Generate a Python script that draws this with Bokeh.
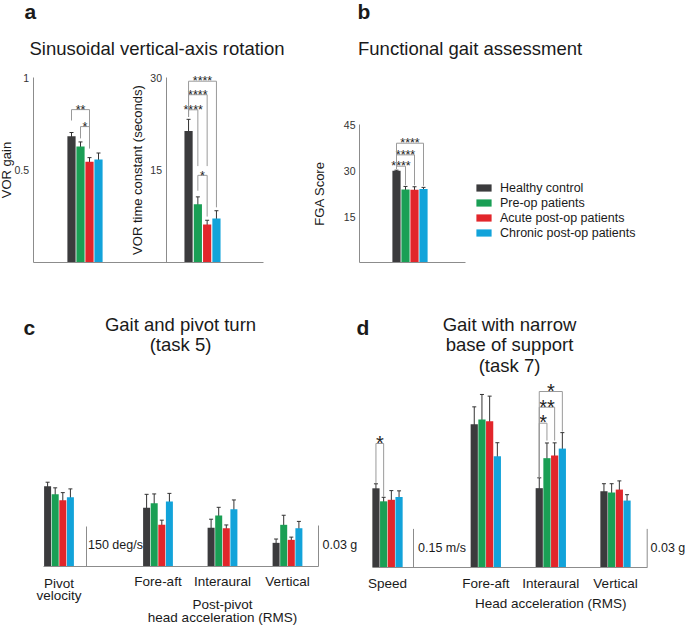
from bokeh.plotting import figure
from bokeh.models import (Range1d, LinearAxis, FixedTicker, ColumnDataSource, Whisker,
                          TeeHead, Legend, LegendItem, NumeralTickFormatter)
from bokeh.core.properties import value
from bokeh.embed import file_html
from bokeh.resources import INLINE

FONT = "Liberation Sans"

# ---------------- data ----------------
series = ["Healthy control", "Pre-op patients", "Acute post-op patients", "Chronic post-op patients"]
colors = ["#3b3b3d", "#1a9f55", "#e2262b", "#12a3da"]

vor_gain = [0.682, 0.626, 0.543, 0.556]
vor_gain_err = [0.020, 0.025, 0.023, 0.035]
vor_tc = [21.3, 9.4, 6.1, 7.1]
vor_tc_err = [1.9, 1.2, 0.7, 1.25]
fga = [29.9, 23.8, 23.7, 24.0]
fga_err = [0.2, 1.0, 1.0, 0.5]

c_pivot_vel = [301, 271, 248, 260]
c_pivot_vel_err = [15, 24, 29, 31]
c_fore_aft = [0.0430, 0.0463, 0.0305, 0.0476]
c_fore_aft_err = [0.0098, 0.0068, 0.0034, 0.0059]
c_interaural = [0.0283, 0.0373, 0.0280, 0.0419]
c_interaural_err = [0.0063, 0.0060, 0.0024, 0.0068]
c_vertical = [0.0173, 0.0305, 0.0195, 0.0280]
c_vertical_err = [0.0028, 0.0070, 0.0020, 0.0050]

d_speed = [0.309, 0.258, 0.264, 0.275]
d_speed_err = [0.0176, 0.0157, 0.036, 0.024]
d_fore_aft = [0.1120, 0.1156, 0.1143, 0.0869]
d_fore_aft_err = [0.0136, 0.0197, 0.0197, 0.0106]
d_interaural = [0.0619, 0.0854, 0.0875, 0.0929]
d_interaural_err = [0.0081, 0.0119, 0.0099, 0.0125]
d_vertical = [0.0595, 0.0585, 0.0608, 0.0522]
d_vertical_err = [0.0059, 0.0069, 0.0068, 0.0046]

gain_ticks = [0.5, 1]
tc_ticks = [15, 30]
fga_ticks = [15, 30, 45]
scale_c = {"vel": 150, "acc": 0.03}
scale_d = {"speed": 0.15, "acc": 0.03}

# significance brackets: (bar i, bar j, top, left end, right end, label) in data units
br_gain = [(0, 2, 0.826, 0.767, 0.705, "**"), (1, 2, 0.734, 0.670, 0.615, "*")]
br_tc = [(0, 1, 24.75, 23.6, 15.6, "****"), (0, 2, 27.2, 23.6, 15.6, "****"),
         (0, 3, 29.4, 23.6, 8.9, "****"), (1, 2, 14.1, 11.6, 7.4, "*")]
br_fga = [(0, 1, 31.4, 30.5, 25.2, "****"), (0, 2, 35.1, 30.5, 25.2, "****"),
          (0, 3, 38.9, 30.5, 25.0, "****")]
br_speed = [(0, 1, 0.4845, 0.330, 0.276, "*")]
br_inter = [(0, 1, 0.1128, 0.0705, 0.0992, "*"), (0, 2, 0.1253, 0.0705, 0.0992, "**"),
            (0, 3, 0.1376, 0.0705, 0.1062, "*")]

# ---------------- canvas ----------------
W, H = 685, 626  # layout coordinate space (1:1 with pixels)
p = figure(width=W, height=H, x_range=Range1d(0, W), y_range=Range1d(0, H),
           x_axis_type=None, y_axis_type=None, toolbar_location=None,
           output_backend="svg", min_border=0, outline_line_color=None)

# extra ranges: (zero-line layout y, px per unit)
rdefs = {"gain": (261.6, 184.6), "tc": (261.6, 184.6 / 30), "fga": (262.0, 138.0 / 45),
         "c_vel": (566.0, 40.0 / 150), "c_acc": (566.0, 41.0 / 0.03),
         "d_speed": (566.7, 38.3 / 0.15), "d_acc": (566.7, 38.3 / 0.03)}
extra = {}
for name, (y0, ppu) in rdefs.items():
    s = -(H - y0) / ppu
    extra[name] = Range1d(s, s + H / ppu)
p.extra_y_ranges = extra

AX = "#8c8c8c"
BR = "#9a9a9a"
TITLE = 18.5
CAT = 13.5
K = 0.3  # baseline correction (fraction of font size)


def txt(x, y, s, size, bold=False, align="left", color="#1a1a1a"):
    p.text(x=[x], y=[H - (y - K * size)], text=[s], text_font=value(FONT),
           text_font_size=f"{size}px",
           text_font_style="bold" if bold else "normal", text_align=align,
           text_baseline="alphabetic", text_color=color)


def bars(rname, center, pitch, width, means, errs):
    xs = [center + (i - 1.5) * pitch for i in range(4)]
    src = ColumnDataSource(dict(x=xs, top=means,
                                up=[m + e for m, e in zip(means, errs)],
                                lo=[m - e for m, e in zip(means, errs)], color=colors))
    r = p.vbar(x="x", top="top", bottom=0, width=width, fill_color="color", line_color=None,
               source=src, y_range_name=rname)
    w = Whisker(base="x", upper="up", lower="lo", source=src, y_range_name=rname,
                line_color="#333333", line_width=1,
                upper_head=TeeHead(size=4, line_color="#333333", line_width=1),
                lower_head=TeeHead(size=4, line_color="#333333", line_width=1))
    p.add_layout(w)
    return r, xs


def brackets(rname, xs, items, size, yoff):
    for i, j, top, le, re_, lab in items:
        p.line(x=[xs[i], xs[i], xs[j], xs[j]], y=[le, top, top, re_], y_range_name=rname,
               line_color=BR, line_width=1)
        p.text(x=[(xs[i] + xs[j]) / 2], y=[top], text=[lab], y_range_name=rname,
               text_font=value(FONT), text_font_size=f"{size}px", text_align="center",
               text_baseline="alphabetic", y_offset=yoff - K * size, text_color="#222222")


def yaxis(rname, loc, top, ticks, label, standoff, fmt=None):
    ax = LinearAxis(y_range_name=rname, fixed_location=loc, bounds=(0, top),
                    ticker=FixedTicker(ticks=ticks), axis_label=label,
                    axis_line_color=AX, axis_line_width=1,
                    major_tick_line_color=None, minor_tick_line_color=None,
                    major_tick_out=0, major_tick_in=0, major_label_standoff=4,
                    major_label_text_font=FONT, major_label_text_font_size="10.5px",
                    major_label_text_color="#333333",
                    axis_label_text_font=FONT, axis_label_text_font_size="13px",
                    axis_label_text_font_style="normal", axis_label_text_color="#1a1a1a",
                    axis_label_standoff=standoff)
    if fmt is not None:
        ax.formatter = fmt
    p.add_layout(ax, "left")


def baseline(rname, x0, x1):
    ax = LinearAxis(y_range_name=rname, fixed_location=0, bounds=(x0, x1),
                    ticker=FixedTicker(ticks=[]), axis_line_color=AX, axis_line_width=1,
                    major_tick_line_color=None, minor_tick_line_color=None,
                    major_label_text_font_size="0px")
    p.add_layout(ax, "below")


def scalebar(rname, x, amount):
    p.segment(x0=[x], y0=[0], x1=[x], y1=[amount], y_range_name=rname,
              line_color=AX, line_width=1)


# ---------------- panel a ----------------
txt(24, 17, "a", 21, bold=True)
txt(156.5, 54, "Sinusoidal vertical-axis rotation", TITLE, align="center")
yaxis("gain", 32.5, 1, gain_ticks, "VOR gain", -2, NumeralTickFormatter(format="0.[0]"))
yaxis("tc", 165.5, 30, tc_ticks, "VOR time constant (seconds)", 3)
baseline("gain", 32.5, 263)
_, xg = bars("gain", 84.5, 9.0, 8.2, vor_gain, vor_gain_err)
brackets("gain", xg, br_gain, 12.5, 4)
_, xt = bars("tc", 202.0, 9.3, 8.2, vor_tc, vor_tc_err)
brackets("tc", xt, br_tc, 12.5, 4)

# ---------------- panel b ----------------
txt(357, 17, "b", 21, bold=True)
txt(357.5, 53.5, "Functional gait assessment", TITLE)
yaxis("fga", 359, 45, fga_ticks, "FGA Score", 14)
baseline("fga", 359, 465)
rb, xb = bars("fga", 409.5, 9.0, 8.2, fga, fga_err)
brackets("fga", xb, br_fga, 12.5, 4)

legend = Legend(items=[LegendItem(label=series[i], renderers=[rb], index=i) for i in range(4)],
                location=(474, 386), orientation="vertical", glyph_width=19, glyph_height=9,
                label_standoff=7, label_height=15, spacing=0, padding=0, margin=0,
                border_line_color=None, background_fill_alpha=0,
                label_text_font=FONT, label_text_font_size="12.5px",
                label_text_baseline="middle", label_text_color="#1a1a1a")
p.add_layout(legend)

# ---------------- panel c ----------------
txt(23, 333, "c", 21, bold=True)
txt(180, 330, "Gait and pivot turn", TITLE, align="center")
txt(180, 350, "(task 5)", TITLE, align="center")
baseline("c_acc", 43, 318)
bars("c_vel", 58.5, 7.6, 7.0, c_pivot_vel, c_pivot_vel_err)
bars("c_acc", 157.5, 7.6, 7.0, c_fore_aft, c_fore_aft_err)
bars("c_acc", 222.0, 7.6, 7.0, c_interaural, c_interaural_err)
bars("c_acc", 287.0, 7.6, 7.0, c_vertical, c_vertical_err)
scalebar("c_vel", 86, scale_c["vel"])
scalebar("c_acc", 318, scale_c["acc"])
txt(87.5, 548.5, "150 deg/s", 12.5)
txt(322, 548.5, "0.03 g", 12.5)
txt(58.5, 587, "Pivot", CAT, align="center")
txt(58.5, 599.5, "velocity", CAT, align="center")
txt(157.5, 585, "Fore-aft", CAT, align="center")
txt(222, 585, "Interaural", CAT, align="center")
txt(287, 585, "Vertical", CAT, align="center")
txt(222, 608, "Post-pivot", CAT, align="center")
txt(222, 621.5, "head acceleration (RMS)", CAT, align="center")

# ---------------- panel d ----------------
txt(356, 333, "d", 21, bold=True)
txt(509, 329.5, "Gait with narrow", TITLE, align="center")
txt(509, 350, "base of support", TITLE, align="center")
txt(509, 370.5, "(task 7)", TITLE, align="center")
baseline("d_acc", 372, 647)
_, xs_sp = bars("d_speed", 387.0, 7.7, 7.2, d_speed, d_speed_err)
brackets("d_speed", xs_sp, br_speed, 20, 5.3)
bars("d_acc", 485.3, 7.7, 7.2, d_fore_aft, d_fore_aft_err)
_, xs_in = bars("d_acc", 550.3, 7.7, 7.2, d_interaural, d_interaural_err)
brackets("d_acc", xs_in, br_inter, 20, 5.3)
bars("d_acc", 615.0, 7.7, 7.2, d_vertical, d_vertical_err)
scalebar("d_speed", 413, scale_d["speed"])
scalebar("d_acc", 646.7, scale_d["acc"])
txt(417.5, 551, "0.15 m/s", 12.5)
txt(650, 551, "0.03 g", 12.5)
txt(387, 587.5, "Speed", CAT, align="center")
txt(485.3, 587.5, "Fore-aft", CAT, align="center")
txt(550.3, 587.5, "Interaural", CAT, align="center")
txt(615, 587.5, "Vertical", CAT, align="center")
txt(550.3, 607, "Head acceleration (RMS)", CAT, align="center")

open("out.html", "w").write(file_html(p, INLINE))
